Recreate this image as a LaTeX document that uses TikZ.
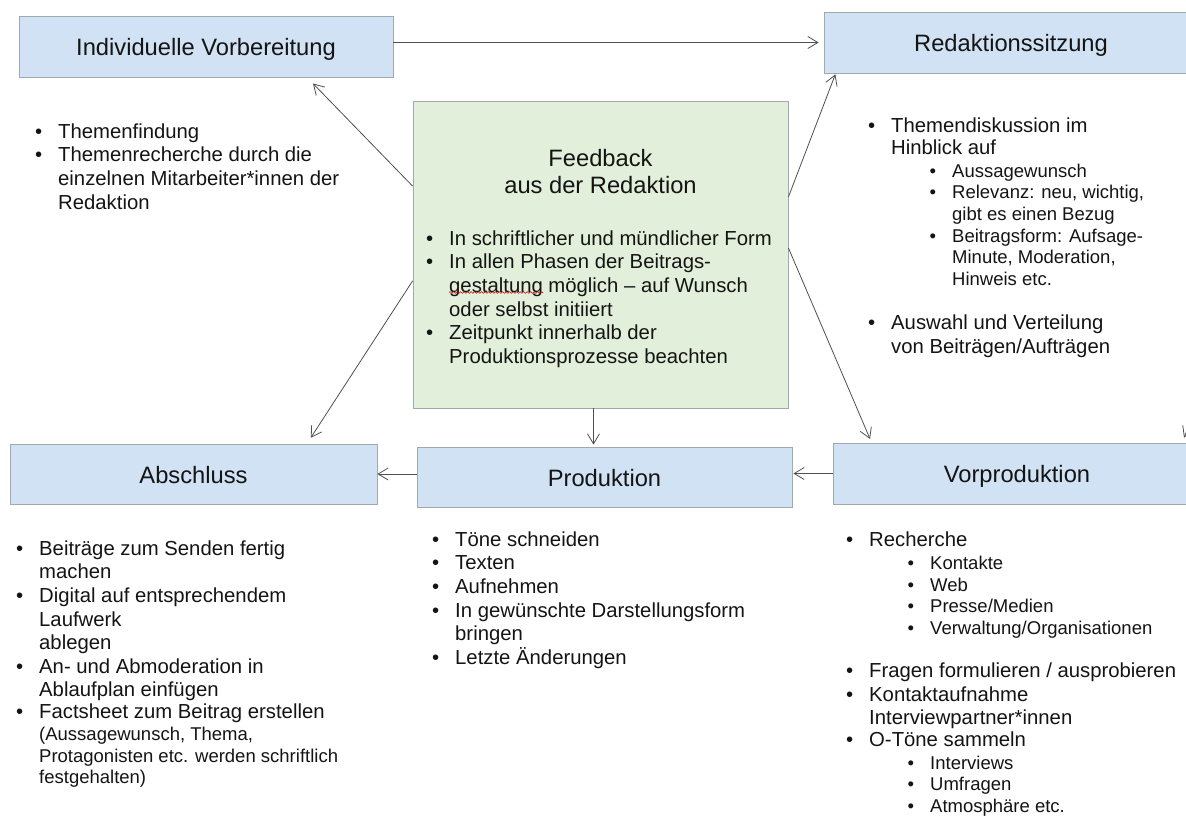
\documentclass[tikz,border=0pt]{standalone}
\usepackage{fontspec}
\setmainfont{Liberation Sans}
\usetikzlibrary{arrows.meta,decorations.pathmorphing}
\definecolor{boxblue}{RGB}{208,226,243}
\definecolor{boxgreen}{RGB}{226,239,218}
\definecolor{boxline}{RGB}{160,168,176}
\definecolor{arrcol}{RGB}{80,80,80}
\definecolor{txt}{RGB}{20,20,20}
\newcommand\mainsz{\fontsize{20.3}{23.6}\selectfont}
\newcommand\subsz{\fontsize{18.5}{21.7}\selectfont}
\newcommand\ttlsz{\fontsize{23.7}{27}\selectfont}
\newcommand\bl[1]{\par\leavevmode\llap{\textbullet\hspace{16pt}}#1}
\newcommand\cl[1]{\par\leavevmode#1}
\newcommand\sbl[2]{\par\leavevmode\hspace*{#1}\llap{\textbullet\hspace{16pt}}#2}
\newcommand\scl[2]{\par\leavevmode\hspace*{#1}#2}
\begin{document}
\begin{tikzpicture}[x=1pt,y=-1pt,
  every node/.style={text=txt},
  stage/.style={draw=boxline, line width=0.8pt, fill=boxblue, font=\ttlsz, minimum height=61pt, inner sep=0pt, text height=20pt, text depth=1.5pt},
  fbbox/.style={draw=boxline, line width=0.8pt, fill=boxgreen, inner sep=0pt},
  blist/.style={anchor=north west, inner sep=0pt, text width=380pt, align=flush left, font=\mainsz},
  conn/.style={draw=arrcol, line width=0.8pt, -{Straight Barb[length=10pt,width=12pt]}}
]
\useasboundingbox (0,0) rectangle (1186,817);
\fill[white] (0,0) rectangle (1186,817);
\clip (0,0) rectangle (1186,817);

% stage boxes
\node[stage, minimum width=374pt] (vorb) at (206,46.5) {Individuelle Vorbereitung};
\node[stage, minimum width=374pt] (red) at (1011,42.5) {Redaktionssitzung};
\node[fbbox, minimum width=375pt, minimum height=307pt] (fb) at (600.5,254.5) {};
\node[stage, minimum width=367pt, minimum height=60pt] (absch) at (193.5,474) {Abschluss};
\node[stage, minimum width=375pt, minimum height=60pt] (prod) at (604.5,477) {Produktion};
\node[stage, minimum width=368pt] (vorp) at (1017,473.5) {Vorproduktion};

% feedback title
\node[anchor=north, inner sep=0pt, align=center, font=\ttlsz] (fbt) at (600.5,149.5) {Feedback\\aus der Redaktion};

% lists
\node[blist] (l1) at (58,114.5) {%
\bl{Themenfindung}
\bl{Themenrecherche durch die}
\cl{einzelnen Mitarbeiter*innen der}
\cl{Redaktion}};

\node[blist] (l2) at (449,221.5) {%
\bl{In schriftlicher und mündlicher Form}
\bl{In allen Phasen der Beitrags-}
\cl{gestaltung möglich – auf Wunsch}
\cl{oder selbst initiiert}
\bl{Zeitpunkt innerhalb der}
\cl{Produktionsprozesse beachten}};

\node[blist] (l3) at (891,108.5) {%
\bl{Themendiskussion im}
\cl{Hinblick auf}
{\subsz
\par\vspace{1.3pt}
\sbl{61pt}{Aussagewunsch}
\sbl{61pt}{Relevanz: neu, wichtig,}
\scl{61pt}{gibt es einen Bezug}
\sbl{61pt}{Beitragsform: Aufsage-}
\scl{61pt}{Minute, Moderation,}
\scl{61pt}{Hinweis etc.}\par}
\vspace{20.4pt}
\bl{Auswahl und Verteilung}
\cl{von Beiträgen/Aufträgen}};

\node[blist] (l4) at (39,531.5) {%
\bl{Beiträge zum Senden fertig}
\cl{machen}
\bl{Digital auf entsprechendem}
\cl{Laufwerk}
\cl{ablegen}
\bl{An- und Abmoderation in}
\cl{Ablaufplan einfügen}
\bl{Factsheet zum Beitrag erstellen}
{\subsz
\cl{(Aussagewunsch, Thema,}
\cl{Protagonisten etc. werden schriftlich}
\cl{festgehalten)}\par}};

\node[blist] (l5) at (455,522.5) {%
\bl{Töne schneiden}
\bl{Texten}
\bl{Aufnehmen}
\bl{In gewünschte Darstellungsform}
\cl{bringen}
\bl{Letzte Änderungen}};

\node[blist] (l6) at (869,524.5) {%
\bl{Recherche}
{\subsz
\par\vspace{1.3pt}
\sbl{61pt}{Kontakte}
\sbl{61pt}{Web}
\sbl{61pt}{Presse/Medien}
\sbl{61pt}{Verwaltung/Organisationen}\par}
\vspace{19.5pt}
\bl{Fragen formulieren / ausprobieren}
\bl{Kontaktaufnahme}
\cl{Interviewpartner*innen}
\bl{O-Töne sammeln}
{\subsz
\par\vspace{1pt}
\sbl{61pt}{Interviews}
\sbl{61pt}{Umfragen}
\sbl{61pt}{Atmosphäre etc.}\par}};

% spell-check squiggle
\draw[red!75!black, line width=0.6pt, decorate, decoration={snake, amplitude=0.8pt, segment length=3.5pt}] (449,292.5) -- (543,292.5);

% connectors
\draw[conn, shorten >=5pt] (vorb.east |- red.west) -- (red.west);
\draw[conn, shorten >=8.5pt] (fb.160.5) -- (vorb.-17.3);
\draw[conn, shorten >=1pt] (fb.17.6) -- (red.190.6);
\draw[conn, shorten >=7pt] (fb.188.64) -- (absch.15.33);
\draw[conn, shorten >=4pt] (fb.2.9) -- (vorp.168.07);
\draw[conn, shorten >=2pt] ([xshift=-7pt]fb.south) -- ([xshift=-11pt]prod.north);
\draw[conn, shorten >=1pt] (vorp.west) -- (vorp.west -| prod.east);
\draw[conn] (prod.west |- absch.east) -- (absch.east);
\coordinate (offpage) at (1189,426);
\draw[conn] (offpage) -- ([xshift=167pt,yshift=5pt]vorp.north);
\end{tikzpicture}
\end{document}
